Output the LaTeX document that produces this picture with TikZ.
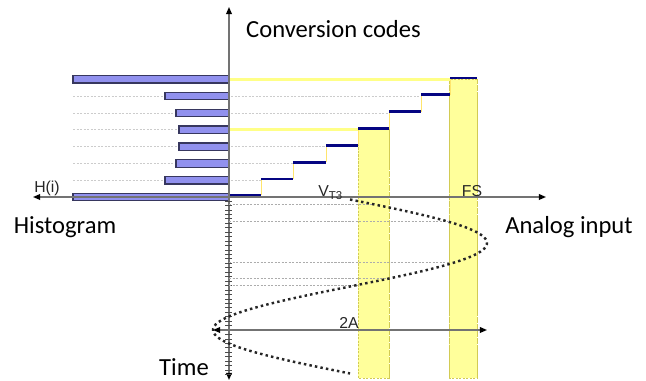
\documentclass[tikz,border=0pt]{standalone}
\usepackage{fontspec}
\setmainfont{Carlito}
\newfontfamily\arialf{Liberation Sans}
\usetikzlibrary{arrows.meta}

\definecolor{barfill}{RGB}{145,145,238}
\definecolor{barline}{RGB}{55,55,95}
\definecolor{stepblue}{RGB}{5,5,130}
\definecolor{hiyellow}{RGB}{255,255,135}
\definecolor{colyellow}{RGB}{255,255,155}
\definecolor{axisgray}{RGB}{115,115,115}

\tikzset{
  axisline/.style={draw=axisgray, line width=0.8pt},
  blacktip/.tip={Triangle[length=4pt,width=3.2pt,color=black]},
  axistip/.style={-blacktip, axisline},
  gridrow/.style={draw=gray!40, line width=0.4pt, dash pattern=on 1.2pt off 0.8pt},
  timeline/.style={draw=gray!65, line width=0.45pt, dash pattern=on 1.2pt off 0.8pt},
  histbar/.style={fill=barfill, draw=barline, line width=0.7pt},
  codestep/.style={draw=stepblue, line width=1.7pt},
  riser/.style={draw=hiyellow!80!orange, line width=0.5pt},
  hiline/.style={draw=hiyellow, line width=1.8pt},
  codecol/.style={fill=colyellow, draw=yellow!60!gray, line width=0.4pt, dash pattern=on 1pt off 1pt},
  wave/.style={draw=black!85, line width=1.4pt, dash pattern=on 1.4pt off 1.8pt},
  biglabel/.style={font=\fontsize{14}{16}\selectfont, inner sep=0pt},
  smalllabel/.style={font=\arialf\fontsize{9}{10}\selectfont, inner sep=0pt, text=black!85},
}

\begin{document}
\begin{tikzpicture}[x=0.02cm, y=-0.02cm]
  \useasboundingbox (0,0) rectangle (646,381);

  % highlighted code columns
  \fill[codecol] (358,129.8) rectangle (389,378);
  \fill[codecol] (449,79.2) rectangle (477,378);
  \draw[codecol, fill=none] (358,378) -- (358,129.8) (389,129.8) -- (389,378);
  \draw[codecol, fill=none] (449,378) -- (449,79.2) (477,79.2) -- (477,378);

  % faint code-level guide rows (left of the bars and up to each step)
  \foreach \yy/\xs in {180.3/261, 163.5/293, 146.7/326, 113/389, 96/421}
    \draw[gridrow] (73,\yy) -- (\xs,\yy);
  \draw[gridrow] (73,129.8) -- (229,129.8);
  \draw[gridrow] (73,79.2) -- (229,79.2);

  % yellow level lines of the two highlighted codes
  \draw[hiline] (229,79.2) -- (450,79.2);
  \draw[hiline] (229,129.8) -- (358,129.8);

  % risers between consecutive steps
  \foreach \xx/\ya/\yb in {261/195.5/179, 293/179/162.3, 326/162.3/145.5, 358/145.5/128.6, 389/128.6/111.8, 421/111.8/94.8, 450/94.8/78}
    \draw[riser] (\xx,\ya) -- (\xx,\yb);

  % transfer staircase
  \foreach \yy/\xa/\xb in {195.5/229/261, 179/261/293, 162.3/293/326, 145.5/326/358, 128.6/358/389, 111.8/389/421, 94.8/421/450, 78/450/477}
    \draw[codestep] (\xa,\yy) -- (\xb,\yy);

  % histogram bars
  \foreach \yy/\xl in {197/73, 180.3/165, 163.5/176, 146.7/179, 129.8/179, 113/176, 96/165, 79.2/73}
    \draw[histbar] (\xl,\yy-3.8) rectangle (229,\yy+3.8);

  % axes
  \coordinate (O) at (229,197);
  \coordinate (codesEnd) at (229,7);
  \coordinate (timeEnd) at (229,380);
  \coordinate (inputEnd) at (546,197);
  \coordinate (histEnd) at (33,197);
  \draw[axistip] (O) -- (codesEnd);
  \draw[axistip] (O) -- (timeEnd);
  \draw[axistip] (O) -- (inputEnd);
  \draw[axistip] (O) -- (histEnd);

  % time ticks
  \foreach \t in {0,...,39}
    \draw[black!70, line width=0.45pt] (225,201+4.45*\t) -- (232,201+4.45*\t);

  % sampling instants
  \foreach \yy/\xe in {204/372, 221.5/448, 262/449, 278/390, 285/358}
    \draw[timeline] (229,\yy) -- (\xe,\yy);

  % sinusoidal input against time (half period = 87 units)
  \draw[wave] plot[variable=\s, domain=0:174, samples=140]
    ({350+137*sin(2.0690*\s)}, {199.5+\s});

  % peak-to-peak span
  \coordinate (ampL) at (213,330);
  \coordinate (ampR) at (487,330);
  \draw[axisline, blacktip-blacktip] (ampL) -- (ampR);

  % labels
  \node[biglabel, anchor=base] (codes) at (333.5,37.5) {Conversion codes};
  \node[biglabel, anchor=base] (hist) at (65,234) {Histogram};
  \node[biglabel, anchor=base] (analog) at (569,234) {Analog input};
  \node[biglabel, anchor=base] (time) at (184,376) {Time};
  \node[smalllabel, anchor=base] (hi) at (47,193) {H(i)};
  \node[smalllabel, anchor=base] (fs) at (472,197) {FS};
  \node[smalllabel, anchor=base east] (twoA) at (359,329) {2A};
  \node[smalllabel, anchor=base west] (vt) at (318,197) {V\raisebox{-0.35ex}{\fontsize{6.5}{7}\selectfont T3}};
\end{tikzpicture}
\end{document}
